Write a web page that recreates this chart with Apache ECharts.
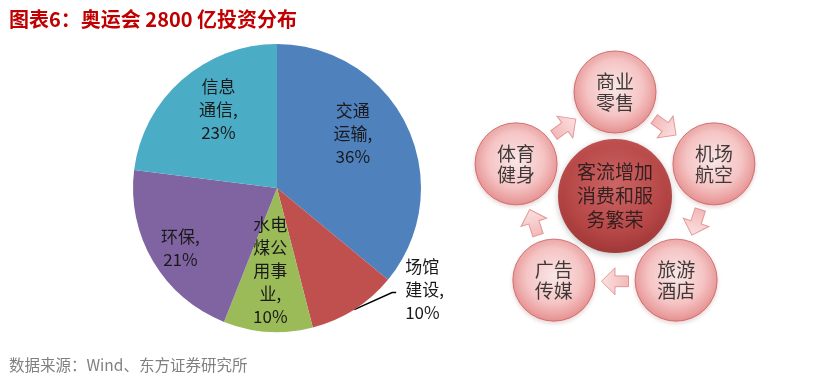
<!DOCTYPE html>
<html>
<head>
<meta charset="utf-8">
<script src="https://cdn.jsdelivr.net/npm/echarts@6/dist/echarts.min.js"></script>
<style>
  html, body { margin: 0; padding: 0; background: #fff; }
  #main { width: 824px; height: 378px; }
</style>
</head>
<body>
<div id="main"></div>
<script>
// 数据
const pieNames = ['交通运输', '场馆建设', '水电煤公用事业', '环保', '信息通信']
const pieValues = [36, 10, 10, 21, 23]
const pieColors = ['#4F81BD', '#C0504D', '#9BBB59', '#8064A2', '#4BACC6']
const hubName = '客流增加消费和服务繁荣'
const ringNames = ['商业零售', '机场航空', '旅游酒店', '广告传媒', '体育健身']

// 饼图标签微调 [dx, dy]
const labelShift = [[8, -23], [6, -20], [-2, 8], [-32, 22], [-9, -22]]

const font = '"Noto Sans CJK SC", "Noto Sans", sans-serif'

// 按字数换行
function chunk(str, n) {
  const out = []
  for (let i = 0; i < str.length; i += n) out.push(str.slice(i, i + n))
  return out
}

const chart = echarts.init(document.getElementById('main'))

// 外圈节点（角度从正上方顺时针）
const step = 360 / ringNames.length
const ringData = ringNames.map((name, i) => ({ name, value: [1, i * step] }))
const arrowData = ringNames.map((name, i) => {
  const a = i * step + step / 2
  return { name: '', value: [0.82, a], symbolRotate: -(90 + a) }
})

// 标签位置 + 引导线
function pieLabelLayout(p) {
  const [dx, dy] = labelShift[p.dataIndex]
  const res = { dx, dy }
  const pts = p.labelLinePoints
  if (pts && pts.length >= 2) {
    const p0 = pts[0]
    const pEnd = pts[pts.length - 1]
    res.labelLinePoints = [
      [p0[0], p0[1]],
      [pEnd[0] + dx - 8, pEnd[1] + dy + 3],
      [pEnd[0] + dx - 4, pEnd[1] + dy + 3]
    ]
  }
  return res
}

const option = {
  animation: false,
  title: [
    {
      text: '图表6：奥运会 2800 亿投资分布',
      left: 4,
      top: 4,
      textStyle: { color: '#C00000', fontSize: 20, fontWeight: 'bold', fontFamily: font }
    },
    {
      text: '数据来源：Wind、东方证券研究所',
      left: 4,
      top: 352,
      textStyle: { color: '#808080', fontSize: 15.5, fontWeight: 'normal', fontFamily: font }
    }
  ],
  polar: { center: [615, 196], radius: 104 },
  angleAxis: { type: 'value', min: 0, max: 360, startAngle: 90, clockwise: true, show: false },
  radiusAxis: { type: 'value', min: 0, max: 1, show: false },
  series: [
    {
      type: 'pie',
      center: [277, 188],
      radius: 144,
      startAngle: 90,
      clockwise: true,
      silent: true,
      data: pieNames.map((name, i) => ({
        name,
        value: pieValues[i],
        itemStyle: { color: pieColors[i] },
        label: i === 1 ? { position: 'outside' } : { position: 'inside' },
        labelLine: { show: i === 1 }
      })),
      label: {
        color: '#1a1a1a',
        fontSize: 17,
        lineHeight: 23,
        fontFamily: font,
        align: 'center',
        formatter: p => chunk(p.name, 2).join('\n') + ',\n' + p.value + '%'
      },
      labelLine: { length: 0, length2: 40, lineStyle: { color: '#000', width: 1.5 } },
      labelLayout: pieLabelLayout
    },
    {
      type: 'scatter',
      coordinateSystem: 'polar',
      symbol: 'path://M10,0 L20,10 L14,10 L14,20 L6,20 L6,10 L0,10 Z',
      symbolKeepAspect: true,
      symbolSize: 27,
      silent: true,
      itemStyle: {
        color: {
          type: 'linear', x: 0, y: 0, x2: 0, y2: 1,
          colorStops: [{ offset: 0, color: '#FADADA' }, { offset: 1, color: '#F0A6A6' }]
        },
        borderColor: '#E08585',
        borderWidth: 1
      },
      data: arrowData
    },
    {
      type: 'scatter',
      coordinateSystem: 'polar',
      symbolSize: 82,
      silent: true,
      itemStyle: {
        color: {
          type: 'radial', x: 0.5, y: 0.45, r: 0.55,
          colorStops: [
            { offset: 0, color: '#FDEAEA' },
            { offset: 0.6, color: '#F8C0C0' },
            { offset: 1, color: '#E57E7E' }
          ]
        },
        borderColor: '#CC5A5A',
        borderWidth: 1,
        shadowBlur: 4,
        shadowColor: 'rgba(120,0,0,0.2)',
        shadowOffsetY: 2
      },
      label: {
        show: true,
        position: 'inside',
        color: '#111',
        fontSize: 19,
        lineHeight: 21,
        fontFamily: font,
        formatter: p => chunk(p.name, 2).join('\n')
      },
      data: ringData
    },
    {
      type: 'scatter',
      coordinateSystem: 'polar',
      symbolSize: 114,
      silent: true,
      itemStyle: {
        color: {
          type: 'radial', x: 0.5, y: 0.4, r: 0.6,
          colorStops: [
            { offset: 0, color: '#CD4E4E' },
            { offset: 0.7, color: '#B42828' },
            { offset: 1, color: '#961414' }
          ]
        },
        shadowBlur: 6,
        shadowColor: 'rgba(0,0,0,0.3)',
        shadowOffsetY: 2
      },
      label: {
        show: true,
        position: 'inside',
        color: '#111',
        fontSize: 19,
        lineHeight: 24,
        fontFamily: font,
        formatter: p => chunk(p.name, 4).join('\n')
      },
      data: [{ name: hubName, value: [0, 0] }]
    }
  ]
}

chart.setOption(option)
</script>
</body>
</html>
